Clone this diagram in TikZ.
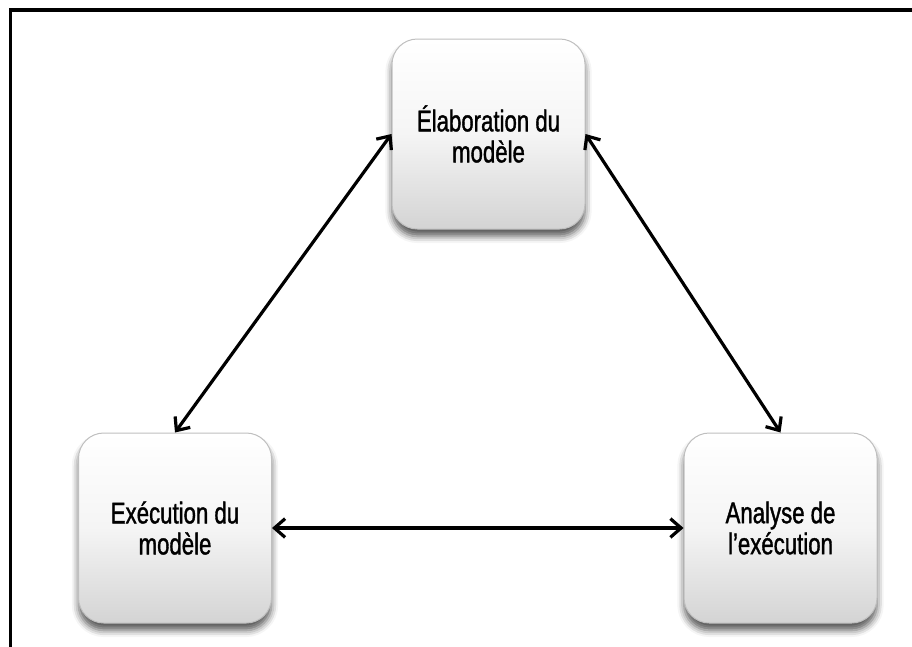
\documentclass[tikz,border=0pt]{standalone}
\usepackage{fontspec}
\setmainfont{Liberation Sans}[FakeStretch=0.74,FakeBold=1.2]
\usetikzlibrary{arrows.meta,shadows.blur}
\begin{document}
\begin{tikzpicture}[x=0.75pt,y=-0.75pt,
  box/.style={draw=black!25, line width=0.75pt, rounded corners=19pt,
    minimum width=144.75pt, minimum height=142.5pt, inner sep=0pt,
    top color=white, bottom color=black!17, middle color=white!96!black,
    align=center, font=\fontsize{22.5}{23.25}\selectfont,
    blur shadow={shadow xshift=0pt, shadow yshift=-5.5pt, shadow blur radius=5pt, shadow opacity=65}},
  link/.style={line width=2.4pt, {Straight Barb[length=8pt,width=14pt]}-{Straight Barb[length=8pt,width=14pt]}},
  frame/.style={line width=2.4pt}]
\useasboundingbox (0,0) rectangle (912,646);
\coordinate (fb) at (10.5,660);
\coordinate (fc) at (10.5,10);
\coordinate (fr) at (925,10);
\draw[frame] (fb) -- (fc) -- (fr);
\node[box] (top) at (488.5,134) {Élaboration du\\modèle};
\node[box] (left) at (175,528) {Exécution du\\modèle};
\node[box] (right) at (780.5,528) {Analyse de\\l’exécution};
\draw[link] (top.west) -- (left.north);
\draw[link] (top.east) -- (right.north);
\draw[link] (left.east) -- (right.west);
\end{tikzpicture}
\end{document}
